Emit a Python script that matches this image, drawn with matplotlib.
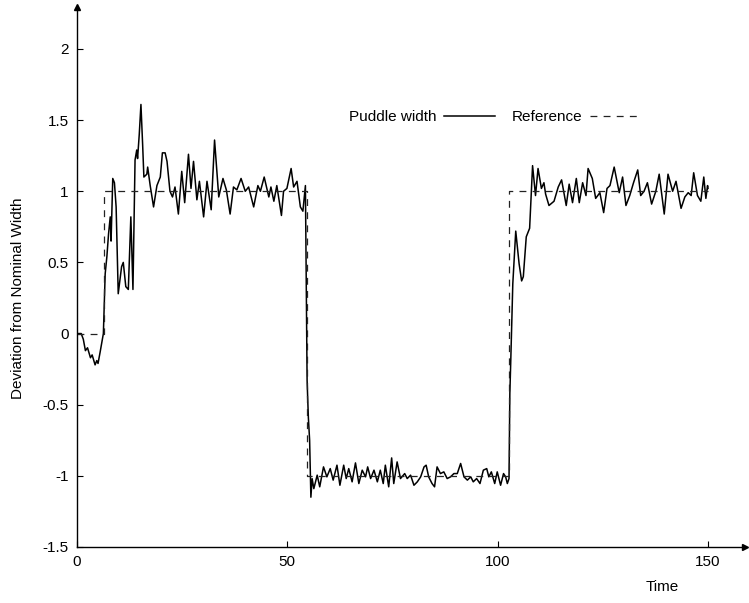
import numpy as np
import matplotlib
matplotlib.use("Agg")
from matplotlib import pyplot as plt

plt.rcParams['font.family'] = ['Liberation Sans', 'DejaVu Sans']
plt.rcParams['font.size'] = 11
plt.rcParams['axes.unicode_minus'] = False

# Puddle width samples (time, deviation)
rise_t = [0, 1, 1.5, 2, 2.5, 3.2, 3.6, 4.3, 4.7, 5, 5.5, 6.27, 6.7, 7.1, 7.5, 7.9, 8.1,
          8.5, 8.9, 9.3, 9.8, 10.6, 11.0, 11.6, 12.2, 12.8, 13.3, 13.8, 14.2, 14.4,
          14.8, 15.2, 15.6, 15.9, 16.6, 16.8, 17.4, 18.2, 19.0, 19.8, 20.3, 20.95,
          21.4, 22.1, 22.7, 23.3, 24.1, 24.9, 25.6, 26.5, 27.1, 27.7, 28.5, 29.1,
          30.1, 30.9, 31.9, 32.7, 33.7, 34.7, 35.5, 36.4, 37.2, 38.0, 39.0, 40.0,
          40.8, 42.0, 43.0, 43.6, 44.5, 45.6, 46.1, 46.8, 47.5, 48.6, 49.1, 49.9,
          50.9, 51.5, 52.3, 53.1, 53.7, 54.3]
rise_v = [0, 0, -0.04, -0.12, -0.1, -0.17, -0.15, -0.22, -0.19, -0.21, -0.13, 0.0, 0.42,
          0.54, 0.70, 0.82, 0.65, 1.09, 1.06, 0.89, 0.28, 0.47, 0.50, 0.33, 0.31, 0.82,
          0.31, 1.22, 1.29, 1.23, 1.40, 1.61, 1.33, 1.10, 1.12, 1.17, 1.04, 0.89, 1.04,
          1.10, 1.27, 1.27, 1.21, 1.00, 0.96, 1.03, 0.84, 1.14, 0.92, 1.26, 1.02, 1.21,
          0.94, 1.07, 0.82, 1.07, 0.87, 1.36, 0.96, 1.09, 1.01, 0.84, 1.03, 1.01, 1.09,
          1.00, 1.03, 0.89, 1.04, 1.00, 1.10, 0.96, 1.03, 0.93, 1.04, 0.83, 1.00, 1.02,
          1.16, 1.03, 1.07, 0.89, 0.86, 1.04]

low_t = [54.7, 55.0, 55.3, 55.6, 55.9, 56.3, 57.1, 57.7, 58.6, 59.4, 60.2, 60.9, 61.8,
         62.5, 63.4, 64.0, 64.6, 65.4, 66.2, 67.0, 67.8, 68.6, 69.1, 69.8, 70.6, 71.4,
         72.1, 72.8, 73.3, 74.1, 74.8, 75.3, 76.1, 76.9, 77.9, 78.5, 79.3, 80.1, 80.9,
         81.7, 82.5, 83.0, 83.6, 84.4, 85.0, 85.6, 86.4, 87.2, 88.0, 88.8, 89.6, 90.4,
         91.2, 92.0, 92.8, 93.6, 94.2, 95.0, 95.8, 96.6, 97.4, 97.9, 98.5, 99.3, 99.9,
         100.7, 101.4, 101.9, 102.3, 102.7]
low_v = [-0.33, -0.59, -0.75, -1.15, -1.02, -1.09, -0.995, -1.077, -0.937, -1.007,
         -0.949, -1.03, -0.925, -1.066, -0.925, -1.019, -0.949, -1.042, -0.909, -1.054,
         -0.96, -1.007, -0.937, -1.019, -0.96, -1.042, -0.96, -1.054, -0.925, -1.077,
         -0.874, -1.054, -0.902, -1.019, -0.984, -1.019, -0.995, -1.066, -1.042, -1.007,
         -0.937, -0.925, -1.007, -1.054, -1.077, -0.937, -0.984, -0.972, -1.019, -1.007,
         -0.984, -0.984, -0.913, -1.007, -1.03, -1.007, -1.042, -1.019, -1.054, -0.96,
         -0.949, -1.007, -0.972, -1.054, -0.972, -1.066, -0.984, -1.007, -1.054, -1.019]

high_t = [102.9, 103.1, 103.6, 104.3, 105.1, 105.7, 106.1, 106.8, 107.6, 108.3, 109.0,
          109.6, 110.4, 111.0, 111.4, 112.2, 113.4, 114.4, 115.2, 116.3, 117.0, 117.8,
          118.7, 119.4, 120.2, 121.0, 121.5, 122.5, 123.3, 124.3, 125.2, 126.0, 126.7,
          127.7, 128.9, 129.7, 130.5, 131.4, 132.3, 133.3, 134.0, 134.8, 135.6, 136.6,
          137.6, 138.4, 139.6, 140.5, 141.6, 142.4, 143.6, 144.5, 145.3, 146.0, 146.6,
          147.5, 148.3, 149.0, 149.5, 149.9, 150.0]
high_v = [-0.42, -0.21, 0.35, 0.72, 0.49, 0.37, 0.40, 0.68, 0.74, 1.18, 0.97, 1.16, 1.02,
          1.06, 0.98, 0.90, 0.93, 1.03, 1.08, 0.90, 1.05, 0.92, 1.09, 0.92, 1.06, 0.97,
          1.16, 1.09, 0.95, 0.99, 0.85, 1.02, 1.04, 1.17, 0.99, 1.10, 0.90, 0.97, 1.06,
          1.15, 0.97, 1.00, 1.06, 0.91, 1.00, 1.12, 0.84, 1.12, 1.00, 1.07, 0.88, 0.96,
          0.99, 0.97, 1.13, 0.97, 0.93, 1.10, 0.95, 1.04, 1.02]

# Reference square wave
ref_t = [0, 6.3, 54.6, 102.6, 150]
ref_v = [0, 1, -1, 1, 1]

width_t = np.array(rise_t + low_t + high_t)
width_v = np.array(rise_v + low_v + high_v)

fig = plt.figure(figsize=(7.49, 6.03), dpi=100)
ax = fig.add_axes([77 / 749, 56 / 603, 668 / 749, 540 / 603])

line_w, = ax.plot(width_t, width_v, color='black', lw=1.1, label='Puddle width')
line_r, = ax.step(ref_t, ref_v, where='post', color='#222222', lw=0.9,
                  linestyle=(0, (5.5, 5)), label='Reference')

ax.set_xlim(0, 158.8)
ax.set_ylim(-1.5, 2.295)
ax.set_xticks([0, 50, 100, 150])
ax.set_yticks([-1.5, -1, -0.5, 0, 0.5, 1, 1.5, 2])
ax.set_yticklabels(['%g' % v for v in [-1.5, -1, -0.5, 0, 0.5, 1, 1.5, 2]])

for s in ['top', 'right']:
  ax.spines[s].set_visible(False)
for s in ['left', 'bottom']:
  ax.spines[s].set_linewidth(1.0)
ax.tick_params(direction='in', length=4, width=0.8, pad=6)

# arrow heads at the axis ends
ax.plot(1, 0, '>k', ms=4, transform=ax.transAxes, clip_on=False)
ax.plot(0, 1, '^k', ms=4, transform=ax.transAxes, clip_on=False)

ax.set_xlabel('Time')
ax.xaxis.set_label_coords(0.876, -0.062)
ax.set_ylabel('Deviation from Nominal Width')
ax.yaxis.set_label_coords(-0.078, 0.46)

ax.legend(handles=[line_w, line_r], ncol=2, markerfirst=False, frameon=False,
          handlelength=3.3, handletextpad=0.5, columnspacing=1.1,
          loc='center left', bbox_to_anchor=(0.387, 0.796))

fig.savefig('out.png', dpi=100)
